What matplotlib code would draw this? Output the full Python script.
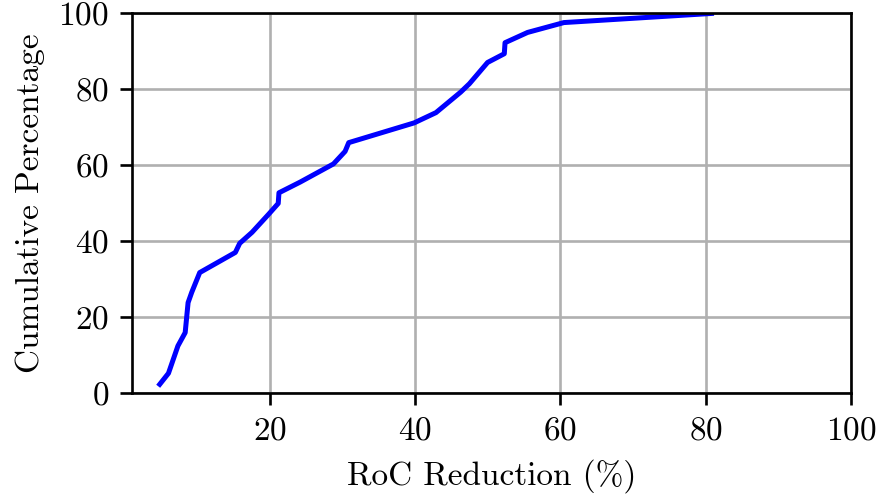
import numpy as np
import matplotlib
matplotlib.use("Agg")
import matplotlib.pyplot as plt

plt.rcParams["font.family"] = "serif"
plt.rcParams["font.serif"] = ["cmr10"]
plt.rcParams["mathtext.fontset"] = "cm"
plt.rcParams["axes.formatter.use_mathtext"] = True

# RoC reduction (%) vs cumulative percentage
roc_reduction = [4.9, 6.1, 7.4, 8.4, 8.8, 9.3, 10.4, 15.3, 15.9, 17.6, 19.9,
                 21.2, 21.3, 24.2, 28.8, 30.4, 30.9, 39.9, 42.9, 46.3, 47.5,
                 50.0, 52.3, 52.4, 55.5, 60.5, 80.8]
cum_pct = [2.4, 5.3, 12.5, 16.0, 23.9, 26.6, 31.8, 37.1, 39.5, 42.4, 47.2,
           50.0, 52.8, 55.6, 60.4, 63.7, 66.0, 71.2, 73.9, 79.3, 81.5,
           87.1, 89.4, 92.3, 95.0, 97.6, 100.0]

fig = plt.figure(figsize=(881 / 240, 498 / 240), dpi=240)
ax = fig.add_axes([0.150, 0.210, 0.816, 0.763])

ax.plot(roc_reduction, cum_pct, color="blue", linewidth=1.5)
ax.set_xlim(right=100)
ax.set_ylim(0, 100)
ax.set_xticks([20, 40, 60, 80, 100])
ax.set_yticks([0, 20, 40, 60, 80, 100])
ax.grid(True)
ax.set_axisbelow(True)
ax.set_xlabel("RoC Reduction (%)")
ax.set_ylabel("Cumulative Percentage")

fig.savefig("out.png", dpi=240)
